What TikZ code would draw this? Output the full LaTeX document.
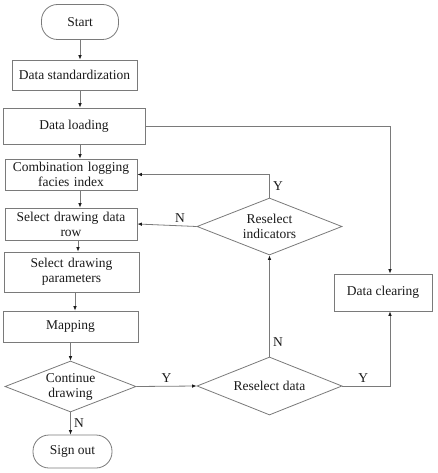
\documentclass[tikz,border=0pt]{standalone}
\usepackage{fontspec}
\setmainfont{Liberation Serif}
\usepackage{tikz}
\usetikzlibrary{arrows.meta,positioning,shapes.geometric,calc}
\definecolor{ink}{HTML}{1A1A1A}
\definecolor{line}{HTML}{7A7A7A}
\tikzset{
  >={Latex[length=4.5pt,width=3.6pt,color=ink]},
  every picture/.style={line width=0.8pt,font=\fontsize{13.5}{15}\selectfont},
  bx/.style={draw=line,fill=white,align=center,inner sep=2pt,text=ink},
  term/.style={bx,rounded corners=16pt},
  dec/.style={diamond,draw=line,fill=white,aspect=2.5,inner sep=0pt,align=center,text=ink},
  arr/.style={->,draw=line},
  yes/.style={text=ink,font=\fontsize{13.5}{15}\selectfont},
}
\begin{document}
\begin{tikzpicture}[x=1pt,y=1pt]
  \useasboundingbox (0,0) rectangle (437,-473);
  \node[term,minimum width=77,minimum height=35] (st) at (80,-22) {Start};
  \node[bx,minimum width=125,minimum height=30] (ds) at (74.5,-75) {Data standardization};
  \node[bx,minimum width=142,minimum height=36] (dl) at (74,-126) {Data loading};
  \node[bx,minimum width=132,minimum height=31,text width=125] (cf) at (71,-174.5) {Combination logging\\facies index};
  \node[bx,minimum width=132,minimum height=32,text width=125] (sr) at (71,-224) {Select drawing data\\row};
  \node[bx,minimum width=135,minimum height=40,text width=125] (sp) at (71.5,-272) {Select drawing\\parameters};
  \node[bx,minimum width=135,minimum height=31] (mp) at (70.5,-326.5) {Mapping};
  \node[dec,minimum width=131,minimum height=51] (cd) at (70.5,-386.5) {Continue\\drawing};
  \node[term,minimum width=79,minimum height=33] (so) at (72.5,-451.5) {Sign out};
  \node[dec,minimum width=145,minimum height=57] (ri) at (269.5,-226.5) {Reselect\\indicators};
  \node[dec,minimum width=145,minimum height=58] (rd) at (269.5,-386) {Reselect data};
  \node[bx,minimum width=98,minimum height=37] (dc) at (383,-292.5) {Data clearing};
  \coordinate (dcin) at ([xshift=7pt]dc.north);
  \coordinate (dcout) at ([xshift=7pt]dc.south);
  \coordinate (srdown) at ([xshift=7pt]sr.south);
  \coordinate (spdown) at ([xshift=3.5pt]sp.south);
  \draw[arr] (st.south) -- (st.south |- ds.north);
  \draw[arr] (ds.south -| st.south) -- (dl.north -| st.south);
  \draw[arr] (dl.south -| st.south) -- (cf.north -| st.south);
  \draw[arr] (cf.south -| st.south) -- (sr.north -| st.south);
  \draw[arr] (srdown) -- (sp.north -| srdown);
  \draw[arr] (spdown) -- (mp.north -| spdown);
  \draw[arr] (mp.south -| cd.north) -- (cd.north);
  \draw[arr] (cd.south) -- node[right,yes]{N} (so.north -| cd.south);
  \draw[arr] (cd.east) -- node[above,yes]{Y} (rd.west);
  \draw[arr] (rd.north) -- node[pos=0.14,right,yes]{N} (ri.south);
  \draw[arr] (ri.west) -- node[pos=0.28,above,yes]{N} (sr.east);
  \draw[arr] (ri.north) |- node[pos=0.25,right,yes]{Y} (cf.east);
  \draw[arr] (dl.east) -| (dcin);
  \draw[arr] (rd.east) -| node[pos=0.22,above,yes]{Y} (dcout);
\end{tikzpicture}
\end{document}
